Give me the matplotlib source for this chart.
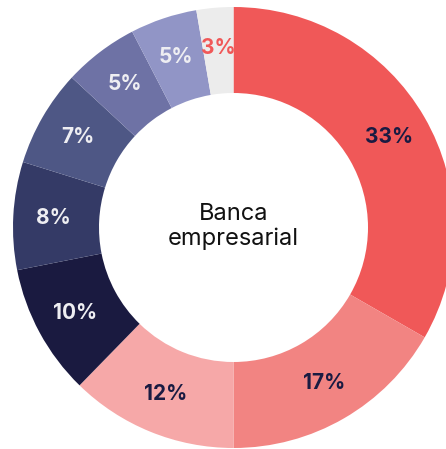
import matplotlib
matplotlib.use("Agg")
import matplotlib.pyplot as plt
import numpy as np

values = [33.3, 16.7, 12.3, 9.6, 7.9, 7.1, 5.5, 4.9, 2.7]
labels = ["33%", "17%", "12%", "10%", "8%", "7%", "5%", "5%", "3%"]
colors = ["#F05858", "#F28482", "#F6A8A8", "#1A1A40", "#343A66",
          "#4E5785", "#6E72A5", "#9195C6", "#ECECEC"]
label_colors = ["#1A1B42", "#1A1B42", "#1A1B42", "#EEEEF2", "#EEEEF2",
                "#EEEEF2", "#EEEEF2", "#EEEEF2", "#F05858"]
center_text = "Banca\nempresarial"

W, H = 446, 449
fig = plt.figure(figsize=(W / 100, H / 100), dpi=100)
ax = fig.add_axes([0, 0, 1, 1])
cx, cy = 233.5, 227.5
R, r_in = 220.5, 134.5

wedges, _ = ax.pie(values, radius=R, center=(0, 0), startangle=90,
                   counterclock=False,
                   colors=colors,
                   wedgeprops=dict(width=R - r_in, linewidth=0))
rm = 180
for w, lab, lc in zip(wedges, labels, label_colors):
    ang = np.deg2rad((w.theta1 + w.theta2) / 2)
    ax.text(rm * np.cos(ang), rm * np.sin(ang), lab, ha="center", va="center",
            fontsize=15, fontweight="bold", color=lc, family=["Inter", "DejaVu Sans"])

ax.text(0, 1, center_text, ha="center", va="center", fontsize=17,
        color="#111111", linespacing=1.1, family=["Inter", "DejaVu Sans"])

ax.set_xlim(-cx, W - cx)
ax.set_ylim(-(H - cy), cy)
ax.set_aspect("equal")
ax.axis("off")
fig.savefig("out.png", dpi=100)
